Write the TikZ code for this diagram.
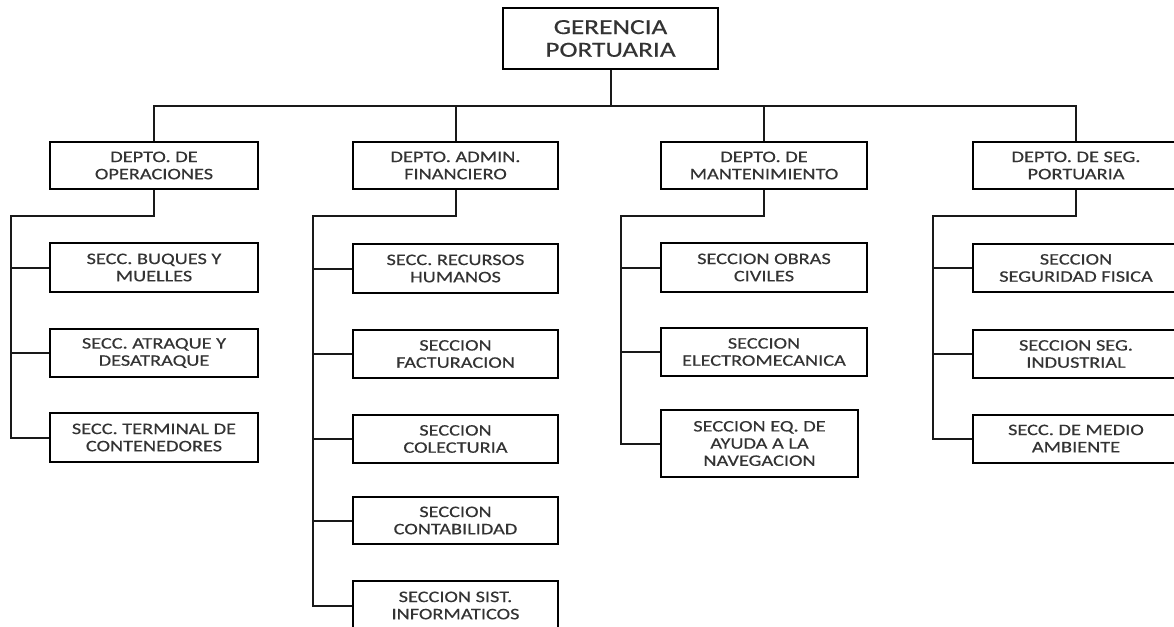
\documentclass[tikz,border=0pt]{standalone}
\usepackage{fontspec}
\setmainfont{Carlito}[FakeStretch=1.27,FakeBold=0.4]
\begin{document}
\begin{tikzpicture}[x=1pt,y=-1pt,
  box/.style={draw=black, line width=2pt, rectangle, inner sep=0pt, align=center,
    text=black!80, font=\fontsize{16}{17.2}\selectfont},
  link/.style={draw=black!90, line width=2pt}]
\useasboundingbox (0,0) rectangle (1174,626);
\clip (0,0) rectangle (1174,626);
\fill[white] (0,0) rectangle (1174,626);

\node[box, minimum width=215pt, minimum height=61pt, font=\fontsize{21.5}{22.7}\selectfont] (top) at (610.5,38.5) {GERENCIA\\PORTUARIA};

\node[box, minimum width=208pt, minimum height=47pt] (op) at (154,165.5) {DEPTO. DE\\OPERACIONES};
\node[box, minimum width=205pt, minimum height=47pt] (ad) at (455.5,165.5) {DEPTO. ADMIN.\\FINANCIERO};
\node[box, minimum width=206pt, minimum height=47pt] (ma) at (764,165.5) {DEPTO. DE\\MANTENIMIENTO};
\node[box, minimum width=206pt, minimum height=47pt] (se) at (1076,165.5) {DEPTO. DE SEG.\\PORTUARIA};

\node[box, minimum width=208pt, minimum height=49pt] (op1) at (154,267.5) {SECC. BUQUES Y\\MUELLES};
\node[box, minimum width=208pt, minimum height=48pt] (op2) at (154,353) {SECC. ATRAQUE Y\\DESATRAQUE};
\node[box, minimum width=208pt, minimum height=49pt] (op3) at (154,437.5) {SECC. TERMINAL DE\\CONTENEDORES};

\node[box, minimum width=205pt, minimum height=49pt] (ad1) at (455.5,268.5) {SECC. RECURSOS\\HUMANOS};
\node[box, minimum width=205pt, minimum height=48pt] (ad2) at (455.5,354) {SECCION\\FACTURACION};
\node[box, minimum width=205pt, minimum height=48pt] (ad3) at (455.5,439) {SECCION\\COLECTURIA};
\node[box, minimum width=205pt, minimum height=47pt] (ad4) at (455.5,520.5) {SECCION\\CONTABILIDAD};
\node[box, minimum width=205pt, minimum height=49pt] (ad5) at (455.5,605.5) {SECCION SIST.\\INFORMATICOS};

\node[box, minimum width=206pt, minimum height=49pt] (ma1) at (764,267.5) {SECCION OBRAS\\CIVILES};
\node[box, minimum width=206pt, minimum height=48pt] (ma2) at (764,352) {SECCION\\ELECTROMECANICA};
\node[box, minimum width=197pt, minimum height=67pt] (ma3) at (759.5,443.5) {SECCION EQ. DE\\AYUDA A LA\\NAVEGACION};

\node[box, minimum width=206pt, minimum height=48pt] (se1) at (1076,268) {SECCION\\SEGURIDAD FISICA};
\node[box, minimum width=206pt, minimum height=48pt] (se2) at (1076,354) {SECCION SEG.\\INDUSTRIAL};
\node[box, minimum width=206pt, minimum height=48pt] (se3) at (1076,438.5) {SECC. DE MEDIO\\AMBIENTE};

\coordinate (bus) at (610.5,106);
\draw[link] (top.south) -- (top.south |- bus);
\draw[link] (op.north) |- (se.north |- bus) -- (se.north);
\draw[link] (ad.north) -- (ad.north |- bus);
\draw[link] (ma.north) -- (ma.north |- bus);

\coordinate (opv) at (11,216);
\coordinate (adv) at (313,216);
\coordinate (mav) at (621,216);
\coordinate (sev) at (933,216);

\draw[link] (op.south) |- (opv) |- (op3.west);
\draw[link] (opv |- op1.west) -- (op1.west);
\draw[link] (opv |- op2.west) -- (op2.west);

\draw[link] (ad.south) |- (adv) |- (ad5.west);
\draw[link] (adv |- ad1.west) -- (ad1.west);
\draw[link] (adv |- ad2.west) -- (ad2.west);
\draw[link] (adv |- ad3.west) -- (ad3.west);
\draw[link] (adv |- ad4.west) -- (ad4.west);

\draw[link] (ma.south) |- (mav) |- (ma3.west);
\draw[link] (mav |- ma1.west) -- (ma1.west);
\draw[link] (mav |- ma2.west) -- (ma2.west);

\draw[link] (se.south) |- (sev) |- (se3.west);
\draw[link] (sev |- se1.west) -- (se1.west);
\draw[link] (sev |- se2.west) -- (se2.west);
\end{tikzpicture}
\end{document}
